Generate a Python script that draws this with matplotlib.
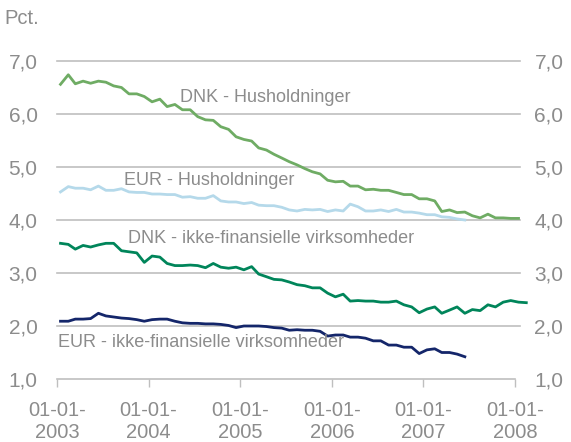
import matplotlib
matplotlib.use("Agg")
import matplotlib.pyplot as plt
import pandas as pd

# --- Data (monthly, pct.) ---
dnk_hus = [6.56, 6.74, 6.57, 6.62, 6.58, 6.62, 6.60, 6.53, 6.50, 6.38,
           6.38, 6.33, 6.23, 6.28, 6.14, 6.18, 6.08, 6.08, 5.95, 5.89,
           5.88, 5.76, 5.71, 5.57, 5.52, 5.49, 5.36, 5.32, 5.24, 5.17,
           5.10, 5.04, 4.97, 4.91, 4.87, 4.75, 4.72, 4.73, 4.64, 4.64,
           4.57, 4.58, 4.56, 4.56, 4.52, 4.48, 4.48, 4.40, 4.40, 4.36,
           4.16, 4.19, 4.14, 4.15, 4.08, 4.04, 4.11, 4.04, 4.04, 4.03,
           4.03]
eur_hus = [4.53, 4.63, 4.60, 4.60, 4.57, 4.64, 4.56, 4.56, 4.59, 4.53,
           4.52, 4.52, 4.49, 4.49, 4.48, 4.48, 4.43, 4.44, 4.41, 4.41,
           4.46, 4.36, 4.34, 4.34, 4.31, 4.33, 4.28, 4.27, 4.27, 4.24,
           4.19, 4.17, 4.20, 4.19, 4.20, 4.16, 4.19, 4.17, 4.30, 4.25,
           4.17, 4.17, 4.19, 4.16, 4.20, 4.15, 4.15, 4.13, 4.10, 4.10,
           4.06, 4.05, 4.02, 4.00]
dnk_ikke = [3.56, 3.54, 3.45, 3.52, 3.49, 3.53, 3.56, 3.56, 3.42, 3.40,
            3.38, 3.20, 3.32, 3.30, 3.18, 3.14, 3.14, 3.15, 3.14, 3.10,
            3.18, 3.11, 3.09, 3.11, 3.06, 3.12, 2.98, 2.93, 2.88, 2.87,
            2.83, 2.78, 2.76, 2.72, 2.72, 2.62, 2.55, 2.60, 2.47, 2.48,
            2.47, 2.47, 2.45, 2.45, 2.47, 2.40, 2.36, 2.25, 2.32, 2.36,
            2.24, 2.30, 2.36, 2.24, 2.31, 2.29, 2.40, 2.36, 2.45, 2.48,
            2.45, 2.44]
eur_ikke = [2.09, 2.09, 2.13, 2.13, 2.14, 2.24, 2.19, 2.17, 2.15, 2.14,
            2.12, 2.09, 2.12, 2.13, 2.13, 2.09, 2.06, 2.05, 2.05, 2.04,
            2.04, 2.03, 2.01, 1.97, 2.00, 2.00, 2.00, 1.99, 1.97, 1.96,
            1.92, 1.93, 1.92, 1.92, 1.90, 1.81, 1.83, 1.83, 1.79, 1.79,
            1.77, 1.72, 1.72, 1.64, 1.64, 1.60, 1.60, 1.48, 1.55, 1.57,
            1.50, 1.50, 1.47, 1.42]

y_ticks = [1, 2, 3, 4, 5, 6, 7]
x_years = [2003, 2004, 2005, 2006, 2007, 2008]

# mid-month dates
months = pd.date_range("2003-01-01", periods=62, freq="MS") + pd.Timedelta(days=14)

GREY_TXT = "#8c8c8c"
GRID = "#bfbfbf"

plt.rcParams["font.family"] = ["Liberation Sans", "DejaVu Sans"]

fig = plt.figure(figsize=(5.71, 4.42), dpi=100)
ax = fig.add_axes([57 / 571, 1 - 379 / 442, (515 - 57) / 571, (379 - 61) / 442])

ax.set_xlim(pd.Timestamp("2003-01-01"), pd.Timestamp("2008-01-01"))
ax.set_ylim(1, 7)

# gridlines, running a little past the last tick
for y in y_ticks[1:]:
    ax.plot([0, 1.012], [y, y], transform=ax.get_yaxis_transform(),
            color=GRID, lw=1.2, clip_on=False, zorder=1)

ax.plot(months[:len(dnk_hus)], dnk_hus, color="#6fac64", lw=2, clip_on=False, zorder=3)
ax.plot(months[:len(eur_hus)], eur_hus, color="#b5d9ea", lw=2, clip_on=False, zorder=3)
ax.plot(months[:len(dnk_ikke)], dnk_ikke, color="#00855a", lw=2, clip_on=False, zorder=3)
ax.plot(months[:len(eur_ikke)], eur_ikke, color="#14266a", lw=2, clip_on=False, zorder=3)

# series labels
lbl = dict(fontsize=13, color=GREY_TXT, va="center", ha="left")
ax.text(pd.Timestamp("2004-05-06"), 6.32, "DNK - Husholdninger", **lbl)
ax.text(pd.Timestamp("2003-09-25"), 4.75, "EUR - Husholdninger", **lbl)
ax.text(pd.Timestamp("2003-10-11"), 3.66, "DNK - ikke-finansielle virksomheder", **lbl)
ax.text(pd.Timestamp("2003-01-05"), 1.68, "EUR - ikke-finansielle virksomheder", **lbl)

# axes styling
for s in ["top", "left", "right"]:
    ax.spines[s].set_visible(False)
ax.spines["bottom"].set_color(GRID)
ax.spines["bottom"].set_linewidth(1.2)

ax.set_xticks([pd.Timestamp(f"{y}-01-01") for y in x_years])
ax.set_xticklabels([f"01-01-\n{y}" for y in x_years])
ax.tick_params(axis="x", direction="out", length=6, width=1, color=GRID,
               labelsize=14.5, labelcolor=GREY_TXT, pad=10)

ax.set_yticks(y_ticks)
ax.set_yticklabels([f"{v},0" for v in y_ticks])
ax.tick_params(axis="y", length=0, labelsize=15, labelcolor=GREY_TXT,
               left=True, right=True, labelleft=True, labelright=True, pad=14)

fig.text(4 / 571, 1 - 18 / 442, "Pct.", fontsize=14.5, color=GREY_TXT,
         ha="left", va="center")

fig.savefig("out.png", dpi=100)
